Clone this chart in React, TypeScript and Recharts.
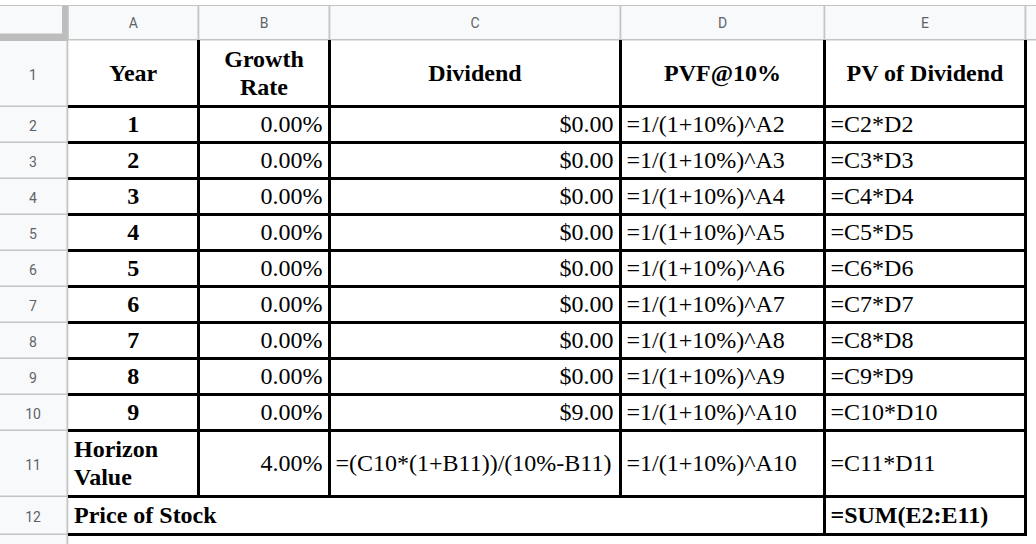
import React from "react";
import { Surface, Layer, Rectangle, Text } from "recharts";

// sheet content
const columnLetters = ["A", "B", "C", "D", "E"];
const rowNumbers = [1, 2, 3, 4, 5, 6, 7, 8, 9, 10, 11, 12];
const headerLabels = [["Year"], ["Growth", "Rate"], ["Dividend"], ["PVF@10%"], ["PV of Dividend"]];
const years = [1, 2, 3, 4, 5, 6, 7, 8, 9];
const growthRates = [0, 0, 0, 0, 0, 0, 0, 0, 0];
const dividends = [0, 0, 0, 0, 0, 0, 0, 0, 9];
const pvfFormulas = [
  "=1/(1+10%)^A2",
  "=1/(1+10%)^A3",
  "=1/(1+10%)^A4",
  "=1/(1+10%)^A5",
  "=1/(1+10%)^A6",
  "=1/(1+10%)^A7",
  "=1/(1+10%)^A8",
  "=1/(1+10%)^A9",
  "=1/(1+10%)^A10",
];
const pvFormulas = ["=C2*D2", "=C3*D3", "=C4*D4", "=C5*D5", "=C6*D6", "=C7*D7", "=C8*D8", "=C9*D9", "=C10*D10"];
const horizonLabel = ["Horizon", "Value"];
const horizonGrowth = 4;
const horizonFormula = "=(C10*(1+B11))/(10%-B11)";
const horizonPvf = "=1/(1+10%)^A10";
const horizonPv = "=C11*D11";
const priceLabel = "Price of Stock";
const priceFormula = "=SUM(E2:E11)";

// layout
const W = 1036;
const H = 544;
const HEADER_TOP = 5;
const colEdges = [68, 198.5, 329.5, 620.5, 824.5, 1025.5];
const rowEdges = [40, 106.5, 142.5, 178.5, 214.5, 250.5, 286.5, 322.5, 358.5, 394.5, 430.5, 496.5, 534.5];
const FONT = "'Liberation Serif', 'Times New Roman', serif";
const UI_FONT = "Roboto, Arial, sans-serif";
const FS = 24;
const LINE = 28.5;
const GRID = "#c4c4c4";
const HEAD_BG = "#f8f9fa";

const pct = (v: number) => `${v.toFixed(2)}%`;
const money = (v: number) => `$${v.toFixed(2)}`;

type Align = "left" | "center" | "right";

function CellText({
  col,
  colSpan = 1,
  row,
  lines,
  align,
  bold,
}: {
  col: number;
  colSpan?: number;
  row: number;
  lines: string[];
  align: Align;
  bold?: boolean;
}) {
  const x0 = colEdges[col];
  const x1 = colEdges[col + colSpan];
  const mid = (rowEdges[row] + rowEdges[row + 1]) / 2;
  const x = align === "left" ? x0 + 6 : align === "right" ? x1 - 7 : (x0 + x1) / 2;
  const anchor = align === "left" ? "start" : align === "right" ? "end" : "middle";
  const first = mid + 7.5 - ((lines.length - 1) * LINE) / 2;
  return (
    <>
      {lines.map((t, i) => (
        <Text
          key={i}
          x={x}
          y={first + i * LINE}
          textAnchor={anchor}
          fontFamily={FONT}
          fontSize={FS}
          fontWeight={bold ? 700 : 400}
          fill="#000"
        >
          {t}
        </Text>
      ))}
    </>
  );
}

export default function App() {
  const dataRows = years.map((y, i) => ({
    year: y,
    growth: growthRates[i],
    dividend: dividends[i],
    pvf: pvfFormulas[i],
    pv: pvFormulas[i],
  }));
  const last = rowEdges.length - 1;
  const blackH: { x0: number; x1: number; y: number }[] = [];
  for (let r = 1; r <= last; r++) blackH.push({ x0: colEdges[0], x1: colEdges[5] + 1.5, y: rowEdges[r] });

  return (
    <div style={{ position: "absolute", left: 0, top: 0, width: W, height: H, background: "#fff" }}>
      <Surface width={W} height={H}>
        {/* column header band */}
        <Layer>
          <Rectangle x={0} y={HEADER_TOP} width={W} height={rowEdges[0] - HEADER_TOP} fill={HEAD_BG} />
          <Rectangle x={0} y={HEADER_TOP} width={W} height={1} fill={GRID} />
          <Rectangle x={colEdges[0]} y={rowEdges[0] - 1} width={W - colEdges[0]} height={1.5} fill={GRID} />
          {colEdges.map((x, i) => (
            <Rectangle key={i} x={x - 1} y={HEADER_TOP} width={1.8} height={rowEdges[0] - HEADER_TOP} fill={GRID} />
          ))}
          {columnLetters.map((c, i) => (
            <Text
              key={c}
              x={(colEdges[i] + colEdges[i + 1]) / 2}
              y={28}
              textAnchor="middle"
              fontFamily={UI_FONT}
              fontSize={14}
              fill="#5f6368"
            >
              {c}
            </Text>
          ))}
        </Layer>

        {/* row number column */}
        <Layer>
          <Rectangle x={0} y={rowEdges[0]} width={colEdges[0]} height={H - rowEdges[0]} fill={HEAD_BG} />
          <Rectangle x={colEdges[0] - 1.5} y={HEADER_TOP} width={1.8} height={H - HEADER_TOP} fill={GRID} />
          {rowEdges.slice(1).map((y, i) => (
            <Rectangle key={i} x={0} y={y - 1} width={colEdges[0]} height={1.5} fill={GRID} />
          ))}
          <Rectangle x={0} y={33.5} width={colEdges[0] - 1} height={7.5} fill="#bdbdbd" />
          <Rectangle x={62} y={HEADER_TOP + 1} width={5.5} height={34} fill="#bdbdbd" />
          {rowNumbers.map((n, i) => (
            <Text
              key={n}
              x={33}
              y={(rowEdges[i] + rowEdges[i + 1]) / 2 + 6.5}
              textAnchor="middle"
              fontFamily={UI_FONT}
              fontSize={14}
              fill="#5f6368"
            >
              {String(n)}
            </Text>
          ))}
        </Layer>

        {/* black cell borders */}
        <Layer>
          {blackH.map((b, i) => (
            <Rectangle key={i} x={b.x0} y={b.y - 1.5} width={b.x1 - b.x0} height={3} fill="#000" />
          ))}
          {colEdges.slice(1).map((x, i) => {
            const merged = i < 3; // A12:D12 merged
            const yEnd = merged ? rowEdges[last - 1] + 1.5 : rowEdges[last] + 1.5;
            return <Rectangle key={i} x={x - 1.5} y={rowEdges[0]} width={3} height={yEnd - rowEdges[0]} fill="#000" />;
          })}
        </Layer>

        {/* cell text */}
        <Layer>
          {headerLabels.map((l, i) => (
            <CellText key={i} col={i} row={0} lines={l} align="center" bold />
          ))}
          {dataRows.map((d, i) => (
            <React.Fragment key={i}>
              <CellText col={0} row={i + 1} lines={[String(d.year)]} align="center" bold />
              <CellText col={1} row={i + 1} lines={[pct(d.growth)]} align="right" />
              <CellText col={2} row={i + 1} lines={[money(d.dividend)]} align="right" />
              <CellText col={3} row={i + 1} lines={[d.pvf]} align="left" />
              <CellText col={4} row={i + 1} lines={[d.pv]} align="left" />
            </React.Fragment>
          ))}
          <CellText col={0} row={10} lines={horizonLabel} align="left" bold />
          <CellText col={1} row={10} lines={[pct(horizonGrowth)]} align="right" />
          <CellText col={2} row={10} lines={[horizonFormula]} align="left" />
          <CellText col={3} row={10} lines={[horizonPvf]} align="left" />
          <CellText col={4} row={10} lines={[horizonPv]} align="left" />
          <CellText col={0} colSpan={4} row={11} lines={[priceLabel]} align="left" bold />
          <CellText col={4} row={11} lines={[priceFormula]} align="left" bold />
        </Layer>
      </Surface>
    </div>
  );
}
